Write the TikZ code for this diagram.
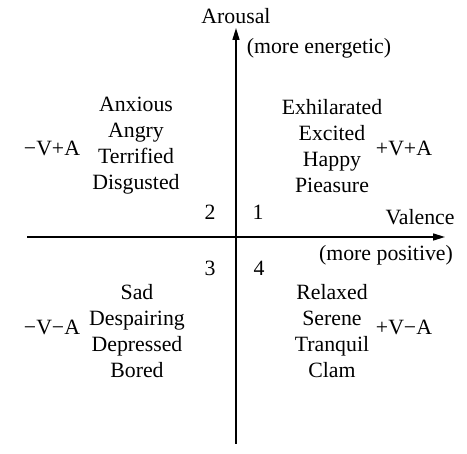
\documentclass[tikz,border=0pt]{standalone}
\usepackage{fontspec}
\setmainfont{Liberation Serif}
\usetikzlibrary{arrows.meta}
\begin{document}
\begin{tikzpicture}[x=1pt,y=-1pt,
  lbl/.style={inner sep=0pt,align=center,font=\fontsize{21.8}{26}\selectfont},
  axis/.style={line width=1.5pt,-{Triangle[length=12pt,width=7pt]}}]
\useasboundingbox (0,0) rectangle (467,454);
\coordinate (vbot) at (236,444);
\coordinate (vtop) at (236,28);
\coordinate (hl) at (27,237);
\coordinate (hr) at (445,237);
\draw[axis] (vbot) -- (vtop);
\draw[axis] (hl) -- (hr);
\node[lbl] (ar) at (236,16) {Arousal};
\node[lbl] (en) at (319,48) {(more energetic)};
\node[lbl] (va) at (420,217) {Valence};
\node[lbl] (po) at (386,255) {(more positive)};
\node[lbl] (q2) at (136,146) {Anxious\\Angry\\Terrified\\Disgusted};
\node[lbl] (q1) at (332,146) {Exhilarated\\Excited\\Happy\\Pieasure};
\node[lbl] (q3) at (137,331) {Sad\\Despairing\\Depressed\\Bored};
\node[lbl] (q4) at (332,331) {Relaxed\\Serene\\Tranquil\\Clam};
\node[lbl] (l2) at (52,148) {−V+A};
\node[lbl] (l1) at (404,148) {+V+A};
\node[lbl] (l3) at (52,327) {−V−A};
\node[lbl] (l4) at (404,327) {+V−A};
\node[lbl] (n2) at (210,212) {2};
\node[lbl] (n1) at (258,212) {1};
\node[lbl] (n3) at (210,268) {3};
\node[lbl] (n4) at (259,268) {4};
\end{tikzpicture}
\end{document}
